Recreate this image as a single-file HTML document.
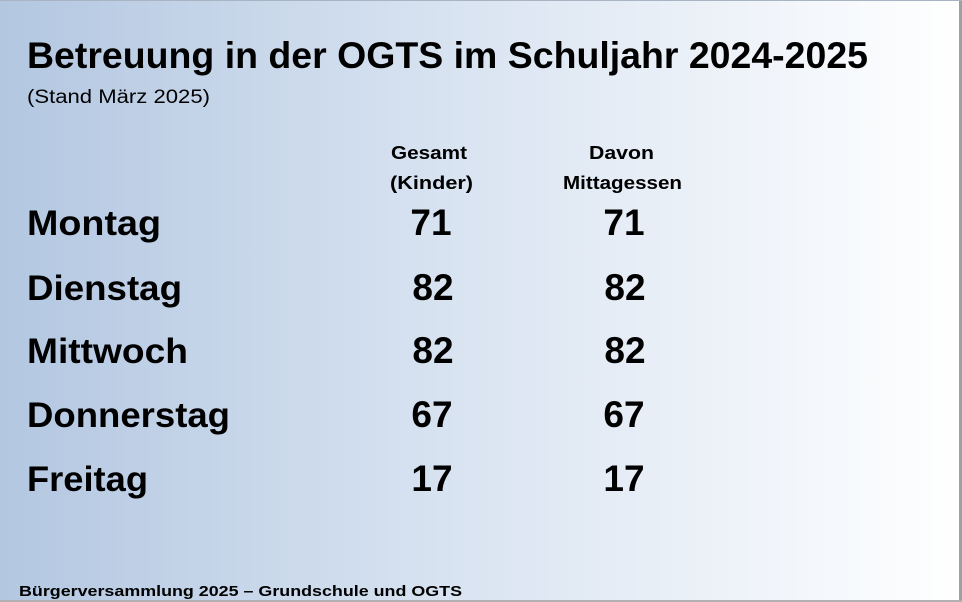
<!DOCTYPE html>
<html><head><meta charset="utf-8"><style>
html,body{margin:0;padding:0;width:962px;height:602px;overflow:hidden}
</style></head><body>
<svg width="962" height="602" xmlns="http://www.w3.org/2000/svg" font-family="Liberation Sans, sans-serif">
<defs><linearGradient id="g" x1="0" x2="1" y1="0" y2="0">
<stop offset="0" stop-color="#b3c7e1"/><stop offset="0.5" stop-color="#dbe5f2"/><stop offset="1" stop-color="#ffffff"/></linearGradient></defs>
<rect width="962" height="602" fill="url(#g)"/>
<rect x="959" y="0" width="3" height="602" fill="#a0a0a0"/>
<rect x="0" y="600" width="962" height="2" fill="#b0b0b0"/>
<rect x="0" y="0" width="962" height="1" fill="#a8b4c4"/>
<g fill="#000" font-weight="bold">
<text x="27" y="68" font-size="37" textLength="841" lengthAdjust="spacingAndGlyphs">Betreuung in der OGTS im Schuljahr 2024-2025</text>
<text x="27" y="103" font-size="19" font-weight="normal" textLength="183" lengthAdjust="spacingAndGlyphs">(Stand März 2025)</text>
<g font-size="18">
<text x="391" y="159" textLength="76" lengthAdjust="spacingAndGlyphs">Gesamt</text>
<text x="390" y="189" textLength="83" lengthAdjust="spacingAndGlyphs">(Kinder)</text>
<text x="589" y="159" textLength="65" lengthAdjust="spacingAndGlyphs">Davon</text>
<text x="563" y="189" textLength="119" lengthAdjust="spacingAndGlyphs">Mittagessen</text>
</g>
<g font-size="35">
<text x="27" y="235" textLength="134" lengthAdjust="spacingAndGlyphs">Montag</text>
<text x="27" y="300" textLength="155" lengthAdjust="spacingAndGlyphs">Dienstag</text>
<text x="27" y="363" textLength="161" lengthAdjust="spacingAndGlyphs">Mittwoch</text>
<text x="27" y="427" textLength="203" lengthAdjust="spacingAndGlyphs">Donnerstag</text>
<text x="27" y="491" textLength="121" lengthAdjust="spacingAndGlyphs">Freitag</text>
</g>
<g font-size="37" text-anchor="middle">
<text x="431" y="235">71</text><text x="624" y="235">71</text>
<text x="433" y="300">82</text><text x="625" y="300">82</text>
<text x="433" y="363">82</text><text x="625" y="363">82</text>
<text x="432" y="427">67</text><text x="624" y="427">67</text>
<text x="432" y="491">17</text><text x="624" y="491">17</text>
</g>
<text x="19" y="596" font-size="15" textLength="443" lengthAdjust="spacingAndGlyphs">Bürgerversammlung 2025 – Grundschule und OGTS</text>
</g>
</svg>
</body></html>
